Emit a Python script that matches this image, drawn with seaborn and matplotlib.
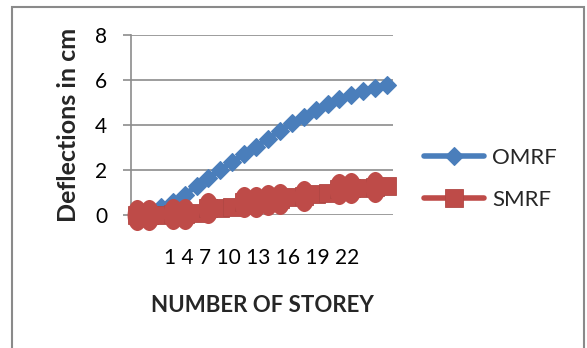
import matplotlib
matplotlib.use("Agg")
import matplotlib.pyplot as plt
import matplotlib.patches as mpatches
from matplotlib.path import Path
import numpy as np
import pandas as pd
import seaborn as sns

# Storey numbers and lateral deflections (cm)
storeys = list(range(1, 23))
omrf = [0.05, 0.15, 0.35, 0.6, 0.9, 1.28, 1.65, 2.0, 2.35, 2.71, 3.04,
        3.4, 3.75, 4.07, 4.37, 4.65, 4.92, 5.17, 5.35, 5.52, 5.66, 5.78]
smrf = [0.0, 0.0, 0.0, 0.05, 0.05, 0.1, 0.3, 0.3, 0.35, 0.6, 0.6,
        0.65, 0.7, 0.8, 0.85, 0.95, 1.0, 1.15, 1.2, 1.2, 1.25, 1.28]
# storeys whose SMRF marker is drawn as a larger round blob
smrf_round = [1, 2, 4, 5, 7, 10, 11, 12, 13, 15, 18, 19, 21]
tick_storeys = [1, 4, 7, 10, 13, 16, 19, 22]
y_ticks = [0, 2, 4, 6, 8]

BLUE = "#4A7EBB"
RED = "#BE4B48"
GRID = "#8C8C8C"

sns.set_theme(style="white")
plt.rcParams["font.family"] = ["Lato", "DejaVu Sans"]

df = pd.DataFrame({"storey": storeys, "OMRF": omrf, "SMRF": smrf})

# tall rounded blob used for the emphasised SMRF points
circ = Path.unit_circle()
blob = Path(circ.vertices * np.array([0.64, 1.0]), circ.codes)

fig = plt.figure(figsize=(5.87, 3.48), dpi=100)
ax = fig.add_axes([131 / 587, 1 - 215 / 348, 262 / 587, 180 / 348])

sns.lineplot(data=df, x="storey", y="OMRF", ax=ax, color=BLUE, linewidth=4,
             marker="D", markersize=9.5, markeredgewidth=0.8,
             markeredgecolor=BLUE, label="OMRF", clip_on=False, zorder=3)
sns.lineplot(data=df, x="storey", y="SMRF", ax=ax, color=RED, linewidth=4,
             marker="s", markersize=13, markeredgewidth=0.6,
             markeredgecolor="#B04744", label="SMRF", clip_on=False, zorder=4)
rnd = df[df["storey"].isin(smrf_round)]
sns.scatterplot(data=rnd, x="storey", y="SMRF", ax=ax, color=RED, s=500,
                marker=blob, linewidth=0, legend=False, clip_on=False, zorder=4)

ax.set_xlim(0.5, 22.5)
ax.set_ylim(0, 8)
ax.set_yticks(y_ticks)
ax.yaxis.grid(True, color=GRID, linewidth=1.2)
ax.set_axisbelow(True)
for s in ["top", "right", "bottom"]:
    ax.spines[s].set_visible(False)
ax.spines["left"].set_color(GRID)
ax.spines["left"].set_linewidth(1.2)
ax.tick_params(axis="y", length=6, width=1.2, color=GRID, pad=11,
               labelsize=15, labelcolor="black", left=True, direction="out")

# category labels are printed as one line centred under the plot
ax.set_xticks([(storeys[0] + storeys[-1]) / 2])
ax.set_xticklabels([" ".join(str(s) for s in tick_storeys)])
ax.tick_params(axis="x", length=0, pad=24, labelsize=15, labelcolor="black")

ax.set_xlabel("NUMBER OF STOREY", fontsize=16, fontweight="bold", labelpad=19)
ax.set_ylabel("Deflections in cm", fontsize=18, fontweight="bold", labelpad=11)

leg = ax.legend(loc="center left", bbox_to_anchor=(1.085, 0.2), frameon=False,
                fontsize=16, handlelength=2.7, handletextpad=0.35,
                labelspacing=1.0, borderaxespad=0)
for h in leg.legend_handles:
    h.set_linewidth(4)

fig.add_artist(mpatches.Rectangle((12 / 587, -0.05), 572 / 587, 1 - 7 / 348 + 0.05,
                                  transform=fig.transFigure, fill=False,
                                  edgecolor="#8A8A8A", linewidth=1.5))

fig.savefig("out.png", dpi=100)
